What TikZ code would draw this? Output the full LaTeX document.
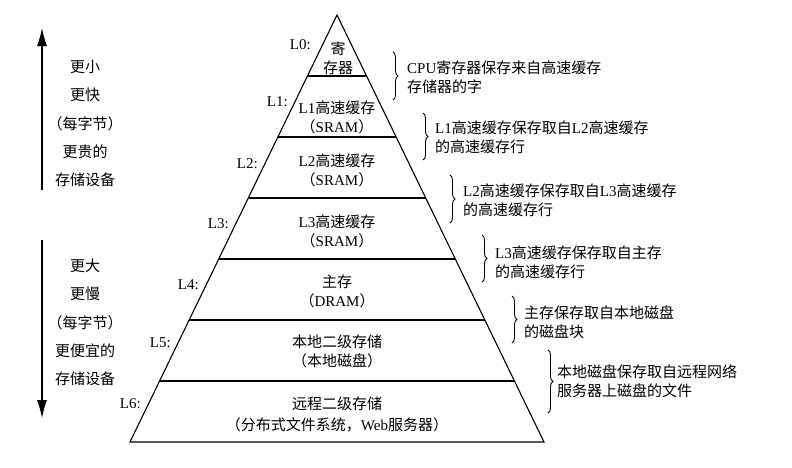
\documentclass[tikz,border=0pt]{standalone}
\usepackage{fontspec}
\setmainfont{Liberation Serif}
\newfontfamily\cjk{Noto Sans CJK SC}
\XeTeXinterchartokenstate=1
\newXeTeXintercharclass\CJKcls
\count255="3000
\loop\XeTeXcharclass\count255=\CJKcls \ifnum\count255<"303F \advance\count255 by 1 \repeat
\count255="4E00
\loop\XeTeXcharclass\count255=\CJKcls \ifnum\count255<"9FFF \advance\count255 by 1 \repeat
\count255="FF00
\loop\XeTeXcharclass\count255=\CJKcls \ifnum\count255<"FFEF \advance\count255 by 1 \repeat
\XeTeXinterchartoks 0 \CJKcls = {\cjk}
\XeTeXinterchartoks 4095 \CJKcls = {\cjk}
\XeTeXinterchartoks \CJKcls 0 = {\rmfamily}
\usetikzlibrary{calc,decorations.pathreplacing,arrows.meta}
\begin{document}
\begin{tikzpicture}[x=1pt,y=-1pt,
  every node/.style={inner sep=0pt,font=\fontsize{15}{19}\selectfont},
  lvl/.style={align=center},
  lbl/.style={anchor=east},
  side/.style={align=center,font=\fontsize{15}{28.3}\selectfont},
  note/.style={anchor=west,align=left},
  brc/.style={line width=0.9pt,decorate,decoration={brace,amplitude=5pt}},
  edge/.style={line width=1.1pt},
  bigarrow/.style={line width=1.1pt,-{Latex[length=18pt,width=10pt]}}]
\useasboundingbox (0,0) rectangle (792,467);
% pyramid
\coordinate (A) at (337,15);
\coordinate (BL) at (130,442);
\coordinate (BR) at (544,442);
\draw[edge,line join=miter] (BL) -- (A) -- (BR) -- cycle;
\foreach \i in {1,...,6}{
  \coordinate (ll\i) at ($(A)!\i/7!(BL)$);
  \coordinate (lr\i) at ($(A)!\i/7!(BR)$);
  \draw[edge] (ll\i) -- (lr\i);
}
% level labels
\node[lbl] (L0) at (311,45) {L0:};
\node[lbl] (L1) at (288,102) {L1:};
\node[lbl] (L2) at (258,164) {L2:};
\node[lbl] (L3) at (229,224) {L3:};
\node[lbl] (L4) at (199,285) {L4:};
\node[lbl] (L5) at (171,343) {L5:};
\node[lbl] (L6) at (141,404) {L6:};
% level contents
\node[lvl] (t0) at (338,58.5) {寄\\存器};
\node[lvl] (t1) at (337,117.5) {L1高速缓存\\（SRAM）};
\node[lvl] (t2) at (337,170) {L2高速缓存\\（SRAM）};
\node[lvl] (t3) at (337,231.5) {L3高速缓存\\（SRAM）};
\node[lvl] (t4) at (337,291) {主存\\（DRAM）};
\node[lvl] (t5) at (337,351) {本地二级存储\\（本地磁盘）};
\node[lvl,font=\fontsize{15}{21}\selectfont] (t6) at (337,414) {远程二级存储\\（分布式文件系统，Web服务器）};
% braces and notes
\coordinate (b1a) at (393,52);  \coordinate (b1b) at (393,100);
\coordinate (b2a) at (423,113); \coordinate (b2b) at (423,160);
\coordinate (b3a) at (450,175); \coordinate (b3b) at (450,223);
\coordinate (b4a) at (482,235); \coordinate (b4b) at (482,282);
\coordinate (b5a) at (512,296); \coordinate (b5b) at (512,343);
\coordinate (b6a) at (548,350); \coordinate (b6b) at (548,413);
\draw[brc] (b1a) -- (b1b);
\draw[brc] (b2a) -- (b2b);
\draw[brc] (b3a) -- (b3b);
\draw[brc] (b4a) -- (b4b);
\draw[brc] (b5a) -- (b5b);
\draw[brc] (b6a) -- (b6b);
\node[note] (n1) at (407,77.5) {CPU寄存器保存来自高速缓存\\存储器的字};
\node[note] (n2) at (435,137.5) {L1高速缓存保存取自L2高速缓存\\的高速缓存行};
\node[note] (n3) at (463,200) {L2高速缓存保存取自L3高速缓存\\的高速缓存行};
\node[note] (n4) at (495,262.5) {L3高速缓存保存取自主存\\的高速缓存行};
\node[note] (n5) at (524,322) {主存保存取自本地磁盘\\的磁盘块};
\node[note] (n6) at (557,381) {本地磁盘保存取自远程网络\\服务器上磁盘的文件};
% side arrows and texts
\coordinate (u0) at (42,190); \coordinate (u1) at (42,28);
\coordinate (d0) at (42,240); \coordinate (d1) at (42,418);
\draw[bigarrow] (u0) -- (u1);
\draw[bigarrow] (d0) -- (d1);
\node[side] (up) at (85,123.5) {更小\\更快\\（每字节）\\更贵的\\存储设备};
\node[side] (down) at (85,322.5) {更大\\更慢\\（每字节）\\更便宜的\\存储设备};
\end{tikzpicture}
\end{document}
